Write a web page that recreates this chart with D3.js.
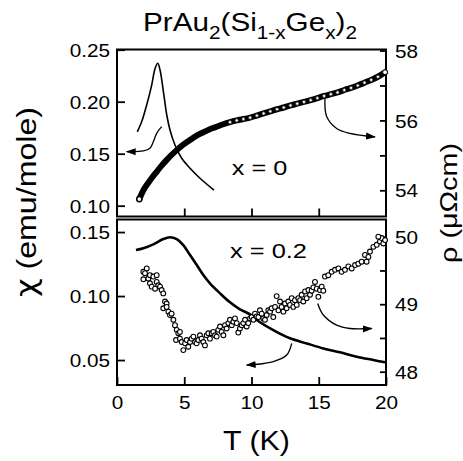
<!DOCTYPE html>
<html>
<head>
<meta charset="utf-8">
<script src="https://cdn.jsdelivr.net/npm/d3@7"></script>
<style>
  body { margin: 0; background: #fff; }
  svg { display: block; font-family: "Liberation Sans", Arial, sans-serif; }
  .tick text { font-size: 18.5px; fill: #000; }
  .tick line { stroke: #000; stroke-width: 1.8; }
</style>
</head>
<body>
<svg width="463" height="461"></svg>
<script>
// x = 0 : susceptibility
const tChi0 = [1.51, 1.84, 2.21, 2.58, 2.83, 3.03, 3.20, 3.45, 3.70, 3.94, 4.31, 4.81, 5.43, 6.17, 7.21];
const chi0 = [0.171, 0.181, 0.197, 0.216, 0.232, 0.237, 0.2305, 0.2096, 0.1872, 0.1728, 0.1584, 0.1456, 0.136, 0.1264, 0.115];
// x = 0 : resistivity
const tRho0 = [1.66, 2.0, 2.21, 2.6, 2.95, 3.3, 3.7, 4.0, 4.44, 4.9, 5.43, 5.9, 6.42, 6.9, 7.41, 7.9, 8.4,
  8.9, 9.4, 9.9, 10.4, 10.9, 11.4, 11.9, 12.4, 12.9, 13.4, 13.9, 14.4, 14.9, 15.4, 15.9, 16.4, 16.9,
  17.4, 17.9, 18.4, 18.9, 19.4, 19.93];
const rho0 = [53.75, 54.03, 54.15, 54.36, 54.53, 54.70, 54.87, 54.99, 55.15, 55.30, 55.44, 55.56, 55.66, 55.75, 55.82, 55.89, 55.95,
  56.00, 56.04, 56.08, 56.14, 56.20, 56.26, 56.32, 56.37, 56.43, 56.48, 56.53, 56.58, 56.64, 56.70, 56.75, 56.80, 56.87,
  56.93, 57.00, 57.08, 57.16, 57.25, 57.38];

// x = 0.2 : susceptibility
const tChi2 = [1.41, 1.96, 2.70, 3.44, 3.94, 4.44, 4.93, 5.43, 5.93, 6.42, 6.91, 7.66, 8.40, 9.14, 9.89, 10.39,
  11.62, 12.86, 14.10, 15.34, 16.58, 17.82, 19.06, 19.93];
const chi2 = [0.1359, 0.1373, 0.1404, 0.1445, 0.1459, 0.1445, 0.1398, 0.132, 0.1242, 0.1164, 0.1099, 0.1021, 0.0951, 0.0896, 0.0857, 0.0813,
  0.0734, 0.0670, 0.0630, 0.0591, 0.0560, 0.0526, 0.0500, 0.0482];
// x = 0.2 : resistivity
const tRho2 = [1.96, 2.21, 2.08, 1.96, 2.33, 2.45, 2.70, 2.95, 2.45, 2.58, 2.95, 3.07, 3.20, 2.83, 3.32, 3.44, 3.57, 3.69,
  3.44, 3.69, 3.82, 3.94, 4.06, 4.19, 4.31, 4.44, 4.56, 4.68, 4.39, 4.68, 4.81, 4.93, 5.06, 5.18, 5.30, 5.43, 5.55,
  5.68, 5.80, 5.92, 6.05, 6.17, 6.29, 6.42, 6.54, 6.67, 6.79, 6.91, 7.04, 7.16, 7.29, 7.41, 7.53, 7.66, 7.78, 7.91,
  8.03, 8.15, 8.28, 8.40, 8.53, 8.65, 8.77, 8.90, 9.02, 9.14, 9.27, 9.39, 9.52, 9.64, 9.76, 9.89, 10.01, 10.14,
  10.26, 10.38, 10.51, 10.63, 10.76, 10.88, 11.00, 11.13, 11.25, 11.38, 11.50, 11.62, 11.75, 11.87, 12.00, 12.12,
  12.24, 12.37, 12.49, 12.61, 12.74, 12.86, 12.99, 13.11, 13.23, 13.36, 13.48, 13.61, 13.73, 13.85, 13.98, 14.10,
  14.23, 14.35, 14.47, 14.60, 14.72, 14.85, 14.97, 15.09, 15.22, 15.34, 15.46, 15.71, 15.96, 16.21, 16.46, 16.70,
  16.95, 17.20, 17.45, 17.70, 17.94, 18.19, 18.44, 18.69, 18.56, 18.81, 19.06, 19.31, 19.55, 19.68, 19.43, 19.80, 19.93];
const rho2 = [49.48, 49.53, 49.46, 49.37, 49.38, 49.43, 49.41, 49.43, 49.31, 49.26, 49.33, 49.28, 49.26, 49.23, 49.21, 49.16, 49.04, 49.01,
  48.94, 48.96, 48.89, 48.84, 48.86, 48.77, 48.69, 48.62, 48.57, 48.59, 48.47, 48.49, 48.44, 48.32, 48.42, 48.47, 48.37, 48.44, 48.49,
  48.52, 48.44, 48.42, 48.47, 48.54, 48.49, 48.44, 48.39, 48.54, 48.57, 48.49, 48.57, 48.59, 48.54, 48.52, 48.62, 48.67, 48.59, 48.54,
  48.69, 48.64, 48.72, 48.77, 48.69, 48.74, 48.79, 48.72, 48.58, 48.64, 48.69, 48.72, 48.77, 48.67, 48.72, 48.79, 48.81, 48.77,
  48.86, 48.82, 48.81, 48.91, 48.86, 48.79, 48.77, 48.84, 48.91, 48.89, 48.94, 48.81, 48.96, 49.12, 48.91, 49.04,
  48.96, 48.89, 49.01, 48.94, 49.04, 48.99, 49.09, 48.96, 49.06, 48.99, 49.09, 49.06, 49.14, 49.04, 49.19, 49.09,
  49.21, 49.14, 49.20, 49.25, 49.33, 49.23, 49.11, 49.21, 49.26, 49.20, 49.41, 49.43, 49.48, 49.51, 49.53, 49.48,
  49.51, 49.56, 49.53, 49.58, 49.60, 49.63, 49.73, 49.70, 49.63, 49.78, 49.85, 49.88, 49.93, 49.98, 50.00, 49.90, 49.95];

// arrows, in data units of the axis they point to
const arrowChi0 = [[3.32, 0.176], [2.95, 0.1696], [2.70, 0.1615], [2.45, 0.1552], [1.96, 0.1526], [0.72, 0.1519]];
const arrowRho0 = [[15.46, 56.63], [15.59, 56.11], [16.33, 55.77], [17.32, 55.63], [19.18, 55.53]];
const arrowChi2 = [[12.99, 0.063], [12.62, 0.0539], [11.62, 0.0487], [10.63, 0.0469], [9.64, 0.0461]];
const arrowRho2 = [[14.92, 49.01], [15.34, 48.84], [16.33, 48.69], [17.32, 48.64], [18.94, 48.64]];

const svg = d3.select("svg");
const left = 117, right = 386;
const top1 = 49.5, bot1 = 216.5, top2 = 219.5, bot2 = 385;

const x = d3.scaleLinear().domain([0, 20]).range([left, right]);
const yChi0 = d3.scaleLinear().domain([0.0896, 0.2502]).range([bot1, top1]);
const yRho0 = d3.scaleLinear().domain([53.25, 58.03]).range([bot1, top1]);
const yChi2 = d3.scaleLinear().domain([0.0305, 0.1598]).range([bot2, top2]);
const yRho2 = d3.scaleLinear().domain([47.803, 50.255]).range([bot2, top2]);

svg.append("defs").append("marker")
  .attr("id", "head")
  .attr("viewBox", "0 0 10 10")
  .attr("refX", 9).attr("refY", 5)
  .attr("markerWidth", 10).attr("markerHeight", 10)
  .attr("markerUnits", "userSpaceOnUse")
  .attr("orient", "auto")
  .append("path").attr("d", "M0,1.5 L10,5 L0,8.5 Z").attr("fill", "#000");

const widen = (sel, k) => sel.each(function () {
  const w = this.getComputedTextLength();
  d3.select(this).attr("textLength", w * k).attr("lengthAdjust", "spacingAndGlyphs");
});

// axes
const fmt2 = d3.format(".2f");
const addAxis = (axis, tx, ty) => {
  const g = svg.append("g").attr("transform", `translate(${tx},${ty})`).call(axis);
  g.select(".domain").remove();
  return g;
};
const ax = [];
ax.push(addAxis(d3.axisLeft(yChi0).tickValues([0.10, 0.15, 0.20, 0.25]).tickFormat(fmt2).tickSize(-8).tickPadding(7), left, 0));
ax.push(addAxis(d3.axisRight(yRho0).tickValues([54, 55, 56, 57, 58]).tickFormat(d => d % 2 === 0 ? d : "").tickSize(-6).tickPadding(9), right, 0));
ax.push(addAxis(d3.axisLeft(yChi2).tickValues([0.05, 0.10, 0.15]).tickFormat(fmt2).tickSize(-8).tickPadding(7), left, 0));
ax.push(addAxis(d3.axisRight(yRho2).tickValues([48, 48.5, 49, 49.5, 50]).tickFormat(d => Number.isInteger(d) ? d : "").tickSize(-6).tickPadding(9), right, 0));
addAxis(d3.axisBottom(x).tickValues([5, 10, 15]).tickFormat("").tickSize(-8), 0, bot1);
ax.push(addAxis(d3.axisBottom(x).tickValues([0, 5, 10, 15, 20]).tickSize(-8).tickPadding(10), 0, bot2));
ax.forEach(g => {
  g.selectAll("text").attr("dy", null).attr("dominant-baseline", null);
});
ax.forEach((g, i) => {
  if (i === 4) g.selectAll("text").attr("y", 23.5);
  else g.selectAll("text").attr("y", 6.6);
  widen(g.selectAll("text"), 1.12);
});

// frames
[[top1, bot1], [top2, bot2]].forEach(([a, b]) => {
  svg.append("rect").attr("x", left).attr("y", a).attr("width", right - left).attr("height", b - a)
    .attr("fill", "none").attr("stroke", "#000").attr("stroke-width", 2);
});

const pts = (ts, vs) => ts.map((t, i) => [t, vs[i]]);
const lineOf = (ys) => d3.line().x(d => x(d[0])).y(d => ys(d[1])).curve(d3.curveCatmullRom);

// top panel
svg.append("path").datum(pts(tRho0, rho0)).attr("d", lineOf(yRho0))
  .attr("fill", "none").attr("stroke", "#000").attr("stroke-width", 6).attr("stroke-linecap", "round");
svg.append("g").selectAll("circle")
  .data(pts(tRho0, rho0).filter(d => d[0] > 8))
  .join("circle")
  .attr("cx", d => x(d[0])).attr("cy", d => yRho0(d[1])).attr("r", 1.6)
  .attr("fill", "#fff").attr("stroke", "#333").attr("stroke-width", 0.8);
svg.append("circle").attr("cx", x(tRho0[0])).attr("cy", yRho0(rho0[0])).attr("r", 2.6)
  .attr("fill", "#fff").attr("stroke", "#000").attr("stroke-width", 1.5);
svg.append("circle").attr("cx", x(tRho0[tRho0.length - 1])).attr("cy", yRho0(rho0[rho0.length - 1])).attr("r", 2.4)
  .attr("fill", "#fff").attr("stroke", "#000").attr("stroke-width", 1);
svg.append("path").datum(pts(tChi0, chi0)).attr("d", lineOf(yChi0))
  .attr("fill", "none").attr("stroke", "#000").attr("stroke-width", 1.6);

// bottom panel
svg.append("path").datum(pts(tChi2, chi2)).attr("d", lineOf(yChi2))
  .attr("fill", "none").attr("stroke", "#000").attr("stroke-width", 2.6);
svg.append("g").selectAll("circle")
  .data(pts(tRho2, rho2))
  .join("circle")
  .attr("cx", d => x(d[0])).attr("cy", d => yRho2(d[1])).attr("r", 2.4)
  .attr("fill", "#fff").attr("stroke", "#000").attr("stroke-width", 1.1);

// arrows
[[arrowChi0, yChi0], [arrowRho0, yRho0], [arrowChi2, yChi2], [arrowRho2, yRho2]].forEach(([a, ys]) => {
  svg.append("path").datum(a).attr("d", lineOf(ys))
    .attr("fill", "none").attr("stroke", "#000").attr("stroke-width", 1.3)
    .attr("marker-end", "url(#head)");
});

// labels
svg.append("text").attr("x", 231.7).attr("y", 175).attr("font-size", 20)
  .attr("textLength", 55.6).attr("lengthAdjust", "spacingAndGlyphs").text("x = 0");
svg.append("text").attr("x", 230).attr("y", 258.3).attr("font-size", 20)
  .attr("textLength", 77).attr("lengthAdjust", "spacingAndGlyphs").text("x = 0.2");

svg.append("text").attr("x", 256.5).attr("y", 450).attr("font-size", 27).attr("text-anchor", "middle")
  .attr("textLength", 67).attr("lengthAdjust", "spacingAndGlyphs").text("T (K)");

const yLab = svg.append("text").attr("transform", "translate(36,202) rotate(-90)").attr("font-size", 28)
  .attr("text-anchor", "middle").attr("textLength", 190).attr("lengthAdjust", "spacingAndGlyphs");
yLab.append("tspan").attr("font-family", "DejaVu Sans").text("\u03c7");
yLab.append("tspan").text(" (emu/mole)");
svg.append("text").attr("transform", "translate(457,203) rotate(-90)").attr("font-size", 24)
  .attr("text-anchor", "middle").attr("textLength", 120).attr("lengthAdjust", "spacingAndGlyphs")
  .text("\u03c1 (\u03bc\u03a9cm)");

const title = svg.append("text").attr("x", 143).attr("y", 31).attr("font-size", 25)
  .attr("textLength", 214).attr("lengthAdjust", "spacingAndGlyphs");
const parts = [["PrAu", 0], ["2", 1], ["(Si", 0], ["1-x", 1], ["Ge", 0], ["x", 1], [")", 0], ["2", 1]];
let prevSub = 0;
parts.forEach(([s, sub]) => {
  title.append("tspan").attr("font-size", sub ? 17.5 : 25).attr("dy", (sub - prevSub) * 7.5).text(s);
  prevSub = sub;
});
</script>
</body>
</html>
